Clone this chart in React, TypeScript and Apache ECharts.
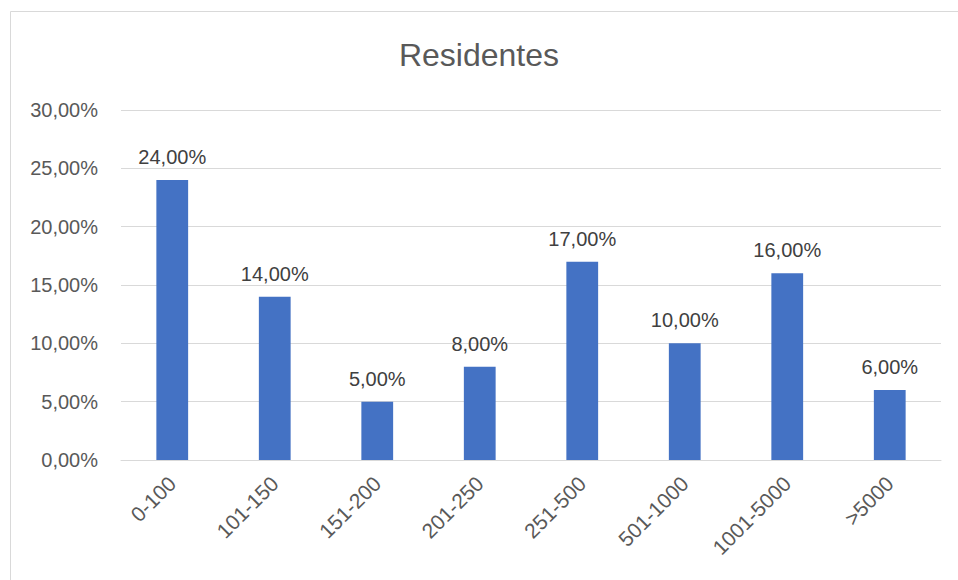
import React, { useEffect, useRef } from "react";
import * as echarts from "echarts";

const categories = ["0-100", "101-150", "151-200", "201-250", "251-500", "501-1000", "1001-5000", ">5000"];
const values = [24, 14, 5, 8, 17, 10, 16, 6];
const yMin = 0;
const yMax = 30;
const yInterval = 5;
const titleText = "Residentes";

const FONT = "'Liberation Sans', Arial, sans-serif";
const fmt = (v: number) => v.toFixed(2).replace(".", ",") + "%";

export default function App() {
  const ref = useRef<HTMLDivElement>(null);
  useEffect(() => {
    if (!ref.current) return;
    const chart = echarts.init(ref.current, undefined, { renderer: "svg" });
    chart.setOption({
      animation: false,
      backgroundColor: "#ffffff",
      textStyle: { fontFamily: FONT },
      title: {
        text: titleText,
        left: "center",
        top: 39,
        padding: 0,
        textStyle: { fontFamily: FONT, fontSize: 32, fontWeight: "normal", color: "#595959" },
      },
      graphic: [
        {
          type: "rect",
          shape: { x: 10.5, y: 11.5, width: 960, height: 600 },
          style: { fill: "none", stroke: "#d9d9d9", lineWidth: 1 },
          silent: true,
          z: -1,
        },
      ],
      grid: { left: 121, right: 17, top: 110, bottom: 120, containLabel: false },
      xAxis: {
        type: "category",
        data: categories,
        axisTick: { show: false },
        axisLine: { show: true, lineStyle: { color: "#d9d9d9", width: 1 } },
        axisLabel: {
          interval: 0,
          rotate: 45,
          margin: 20,
          color: "#595959",
          fontSize: 21,
          fontFamily: FONT,
        },
      },
      yAxis: {
        type: "value",
        min: yMin,
        max: yMax,
        interval: yInterval,
        axisLine: { show: false },
        axisTick: { show: false },
        splitLine: { lineStyle: { color: "#d9d9d9", width: 1 } },
        axisLabel: {
          color: "#595959",
          fontSize: 20,
          fontFamily: FONT,
          margin: 23,
          formatter: (v: number) => fmt(v),
        },
      },
      series: [
        {
          type: "bar",
          data: values,
          barWidth: "31%",
          itemStyle: { color: "#4472C4" },
          label: {
            show: true,
            position: "top",
            distance: 13,
            color: "#404040",
            fontSize: 20,
            fontFamily: FONT,
            formatter: (p: any) => fmt(p.value),
          },
        },
      ],
    });
    return () => chart.dispose();
  }, []);
  return (
    <div
      ref={ref}
      style={{ position: "absolute", left: 0, top: 0, width: 958, height: 580 }}
    />
  );
}
